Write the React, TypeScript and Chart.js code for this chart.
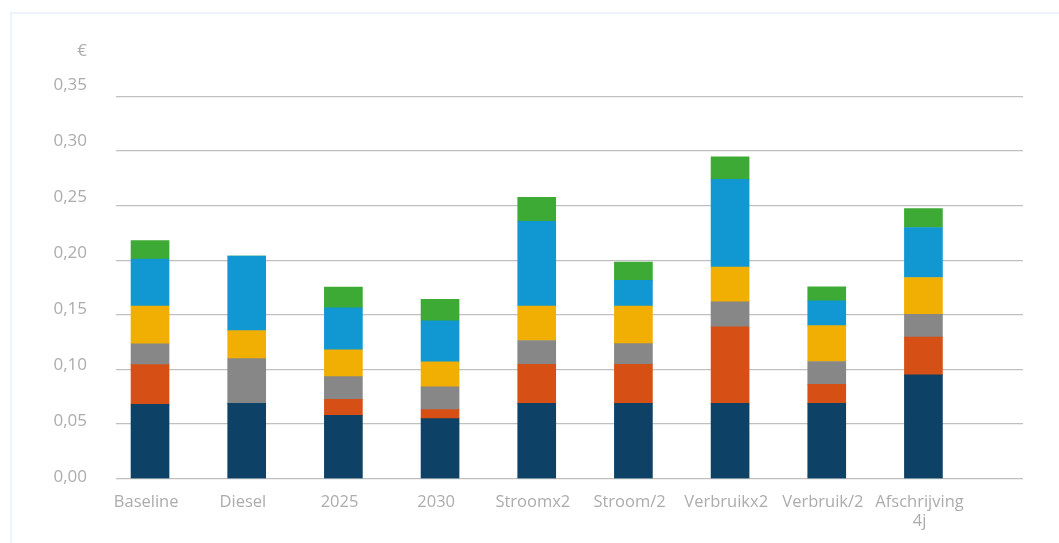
import React, { useEffect, useRef } from "react";
import { Chart, registerables } from "chart.js";

Chart.register(...registerables);

const categories = [
  "Baseline",
  "Diesel",
  "2025",
  "2030",
  "Stroomx2",
  "Stroom/2",
  "Verbruikx2",
  "Verbruik/2",
  "Afschrijving 4j",
];

const seriesNames = ["Afschrijving", "Stroom", "Onderhoud", "Verzekering", "Brandstof", "Overig"];

const afschrijving = [0.068, 0.069, 0.058, 0.055, 0.069, 0.069, 0.069, 0.069, 0.095];
const stroom = [0.0365, 0, 0.0146, 0.0082, 0.0356, 0.0356, 0.0701, 0.0173, 0.0346];
const onderhoud = [0.019, 0.041, 0.0209, 0.0209, 0.0219, 0.0191, 0.0228, 0.021, 0.0209];
const verzekering = [0.0346, 0.0255, 0.0245, 0.0228, 0.0316, 0.0344, 0.0319, 0.0328, 0.0337];
const brandstof = [0.043, 0.0683, 0.0384, 0.0376, 0.0776, 0.0234, 0.0802, 0.0227, 0.0458];
const overig = [0.017, 0, 0.0191, 0.0198, 0.0219, 0.0169, 0.0207, 0.0128, 0.0173];

const seriesValues = [afschrijving, stroom, onderhoud, verzekering, brandstof, overig];
const seriesColors = ["#0d4266", "#d65016", "#878787", "#f2af03", "#1198d3", "#3caa35"];

const yTicks = [0, 0.05, 0.1, 0.15, 0.2, 0.25, 0.3, 0.35];
const unitLabel = "€";

const FONT = "'Open Sans', sans-serif";
const TEXT_COLOR = "#acacac";

const fmt = (v: number) => v.toFixed(2).replace(".", ",");

export default function App() {
  const canvasRef = useRef<HTMLCanvasElement | null>(null);

  useEffect(() => {
    const canvas = canvasRef.current;
    if (!canvas) return;

    // Draws the y tick labels (slightly raised above their gridlines, as in the
    // original) and the "€" unit label above them.
    const yLabelPlugin = {
      id: "yLabels",
      afterDraw(chart: any) {
        const ctx = chart.ctx;
        const yScale = chart.scales.y;
        const xRight = yScale.right - 29;
        ctx.save();
        ctx.font = `17px ${FONT}`;
        ctx.fillStyle = TEXT_COLOR;
        ctx.textAlign = "right";
        ctx.textBaseline = "middle";
        const maxV = yTicks[yTicks.length - 1];
        yTicks.forEach((v) => {
          const shift = 2 + 9.7 * (v / maxV);
          ctx.fillText(fmt(v), xRight, yScale.getPixelForValue(v) - shift);
        });
        ctx.fillText(unitLabel, xRight, 51);
        ctx.restore();
      },
    };

    const chart = new Chart(canvas, {
      type: "bar",
      data: {
        datasets: seriesValues.map((vals, si) => ({
          label: seriesNames[si],
          data: vals.map((v, i) => ({ x: i, y: v })),
          backgroundColor: seriesColors[si],
          borderWidth: 0,
          barThickness: 38,
        })),
      },
      options: {
        responsive: false,
        animation: false,
        layout: { padding: { top: 96.4, right: 36, bottom: 0, left: 0 } },
        plugins: {
          legend: { display: false },
          tooltip: { enabled: false },
        },
        scales: {
          x: {
            type: "linear",
            stacked: true,
            offset: false,
            min: -0.352,
            max: 9.03,
            grid: { display: false, offset: false },
            border: { display: false },
            afterBuildTicks: (axis: any) => {
              axis.ticks = categories.map((_, i) => ({ value: i - 0.04 }));
            },
            afterFit: (scale: any) => {
              scale.height = 64.3;
            },
            ticks: {
              autoSkip: false,
              maxRotation: 0,
              minRotation: 0,
              padding: 6,
              color: TEXT_COLOR,
              font: { family: FONT, size: 16.5, lineHeight: 1.15 },
              callback: (value: any) => {
                const c = categories[Math.round(Number(value))];
                if (c === undefined) return "";
                return c.includes(" ") ? c.split(" ") : c;
              },
            },
          },
          y: {
            stacked: true,
            min: 0,
            max: 0.35,
            grid: { color: "#c0c0c0", lineWidth: 1.2, drawTicks: false },
            border: { display: false },
            afterBuildTicks: (axis: any) => {
              axis.ticks = yTicks.map((v) => ({ value: v }));
            },
            afterFit: (scale: any) => {
              scale.width = 116;
            },
            ticks: {
              display: false,
            },
          },
        },
      },
      plugins: [yLabelPlugin],
    });

    return () => chart.destroy();
  }, []);

  return (
    <div
      style={{
        position: "fixed",
        left: 0,
        top: 0,
        width: 1059,
        height: 543,
        overflow: "hidden",
        background: "#ffffff",
      }}
    >
      <div
        style={{
          position: "absolute",
          left: 10,
          top: 12,
          width: 1200,
          height: 700,
          border: "2px solid #edf3fa",
          boxSizing: "border-box",
        }}
      />
      <canvas
        ref={canvasRef}
        width={1059}
        height={543}
        style={{ position: "absolute", left: 0, top: 0 }}
      />
    </div>
  );
}
